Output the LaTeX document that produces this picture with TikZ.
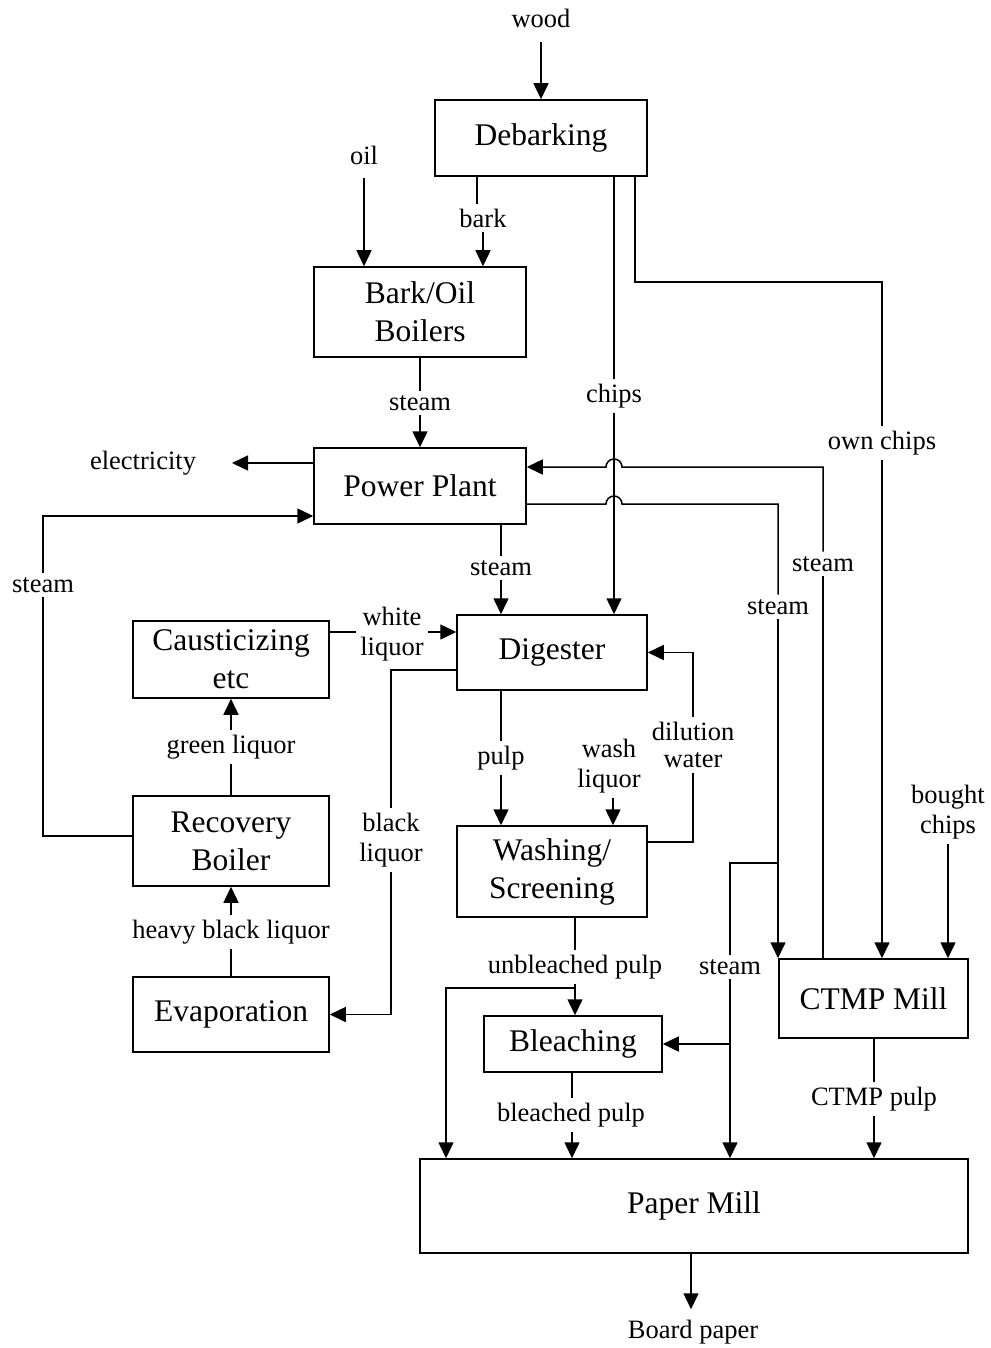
\documentclass[tikz,border=0pt]{standalone}
\usepackage{fontspec}
\setmainfont{Liberation Serif}
\usetikzlibrary{arrows.meta}
\begin{document}
\begin{tikzpicture}[x=1pt,y=1pt,line width=1.5pt,
  box/.style={draw,rectangle,line width=1.5pt,inner sep=0pt,align=center,
    font=\fontsize{31.5}{38}\selectfont},
  lbl/.style={inner sep=4pt,align=center,font=\fontsize{26.5}{30}\selectfont},
  flow/.style={-{Triangle[length=16pt,width=15pt]}}]

% page frame
\fill[white] (0,0) rectangle (990,-1348);
\useasboundingbox (0,0) rectangle (990,-1348);

% process blocks
\node[box,minimum width=212,minimum height=76] (deb)  at (541,-138)    {Debarking};
\node[box,minimum width=212,minimum height=90] (bob)  at (420,-312)    {Bark/Oil\\Boilers};
\node[box,minimum width=212,minimum height=76] (pp)   at (420,-486)    {Power Plant};
\node[box,minimum width=190,minimum height=75] (dig)  at (552,-652.5)  {Digester};
\node[box,minimum width=190,minimum height=91] (wash) at (552,-871.5)  {Washing/\\Screening};
\node[box,minimum width=178,minimum height=56] (bl)   at (573,-1044)   {Bleaching};
\node[box,minimum width=196,minimum height=77] (caus) at (231,-659.5)  {Causticizing\\etc};
\node[box,minimum width=196,minimum height=90] (rec)  at (231,-841)    {Recovery\\Boiler};
\node[box,minimum width=196,minimum height=75] (evap) at (231,-1014.5) {Evaporation};
\node[box,minimum width=189,minimum height=79] (ctmp) at (873.5,-998.5){CTMP Mill};
\node[box,minimum width=548,minimum height=94] (pm)   at (694,-1206)   {Paper Mill};

% stream labels
\node[lbl] (wood)   at (541,-18)   {wood};
\node[lbl] (oil)    at (364,-155)  {oil};
\node[lbl] (bark)   at (483,-218)  {bark};
\node[lbl] (chips)  at (614,-396)  {chips};
\node[lbl] (own)    at (882,-443)  {own chips};
\node[lbl] (stA)    at (420,-403)  {steam};
\node[lbl] (elec)   at (143,-463)  {electricity};
\node[lbl] (stL)    at (43,-585)   {steam};
\node[lbl] (stB)    at (501,-568)  {steam};
\node[lbl] (stC)    at (823,-564)  {steam};
\node[lbl] (stD)    at (778,-607)  {steam};
\node[lbl] (wl)     at (392,-634)  {white\\liquor};
\node[lbl] (blq)    at (391,-840)  {black\\liquor};
\node[lbl] (pulp)   at (501,-758)  {pulp};
\node[lbl] (wliq)   at (609,-766)  {wash\\liquor};
\node[lbl,font=\fontsize{26.5}{27}\selectfont] (dw) at (693,-745) {dilution\\water};
\node[lbl] (gl)     at (231,-747)  {green liquor};
\node[lbl] (hbl)    at (231,-932)  {heavy black liquor};
\node[lbl] (bch)    at (948,-812)  {bought\\chips};
\node[lbl] (ub)     at (575,-967)  {unbleached pulp};
\node[lbl] (stE)    at (730,-967)  {steam};
\node[lbl] (bp)     at (571,-1115) {bleached pulp};
\node[lbl] (cp)     at (874,-1099) {CTMP pulp};
\node[lbl] (board)  at (693,-1332) {Board paper};

% routing points
\coordinate (cBark)  at (477,0);
\coordinate (cBarkB) at (483,0);
\coordinate (cOwn)   at (635,-282);
\coordinate (eTip)   at (232,-463);
\coordinate (rSin)   at (0,-516);
\coordinate (rRec)   at (0,-836);
\coordinate (h1)     at (622,-467);
\coordinate (h2)     at (606,-504);
\coordinate (jA)     at (778,-863);
\coordinate (rWL)    at (0,-632);
\coordinate (rBL)    at (391,-670);
\coordinate (rDW)    at (693,-842);
\coordinate (cWL)    at (613,0);
\coordinate (jUB)    at (575,-988);
\coordinate (cUBL)   at (446,0);
\coordinate (cBP)    at (572,0);
\coordinate (cBD)    at (691,0);

% wood, oil and bark
\draw[flow] ([yshift=-10pt]wood.south) -- (deb.north -| wood);
\draw[flow] ([yshift=-9pt]oil.south) -- (bob.north -| oil);
\draw (deb.south -| cBark) -- (bark.north -| cBark);
\draw[flow] (bark.south -| cBarkB) -- (bob.north -| cBarkB);

% chips
\draw (deb.south -| chips) -- (chips.north);
\draw[flow] (chips.south) -- (dig.north -| chips);
\draw (deb.south -| cOwn) -- (cOwn) -- (cOwn -| own) -- (own.north);
\draw[flow] (own.south) -- (ctmp.north -| own);
\draw[flow] (bch.south) -- (ctmp.north -| bch);

% steam and power
\draw (bob.south) -- (stA.north);
\draw[flow] (stA.south) -- (pp.north);
\draw[flow] (pp.west |- eTip) -- (eTip);
\draw (rec.west |- rRec) -- (rRec -| stL) -- (stL.south);
\draw[flow] (stL.north) -- (stL.north |- rSin) -- (pp.west |- rSin);
\draw (pp.south -| stB) -- (stB.north);
\draw[flow] (stB.south) -- (dig.north -| stB);
\draw (ctmp.north -| stC) -- (stC.south);
\draw[flow] (stC.north) -- (stC.north |- h1) -- (h1)
  arc[start angle=0,end angle=180,radius=8] -- (pp.east |- h1);
\draw (pp.east |- h2) -- (h2)
  arc[start angle=180,end angle=0,radius=8] -- (h2 -| stD) -- (stD.north);
\draw[flow] (stD.south) -- (ctmp.north -| stD);
\draw (jA) -- (jA -| stE) -- (stE.north);
\draw[flow] (stE.south) -- (pm.north -| stE);
\draw[flow] (stE.south |- bl.east) -- (bl.east);

% liquor cycle
\draw (caus.east |- rWL) -- (wl.west |- rWL);
\draw[flow] (wl.east |- rWL) -- (dig.west |- rWL);
\draw (dig.west |- rBL) -- (rBL) -- (blq.north);
\draw[flow] (blq.south) -- (blq.south |- evap.east) -- (evap.east);
\draw (evap.north) -- (hbl.south);
\draw[flow] (hbl.north) -- (rec.south);
\draw (rec.north) -- (gl.south);
\draw[flow] (gl.north) -- (caus.south);

% pulp line
\draw (dig.south -| pulp) -- (pulp.north);
\draw[flow] (pulp.south) -- (wash.north -| pulp);
\draw[flow] (wliq.south -| cWL) -- (wash.north -| cWL);
\draw (wash.east |- rDW) -- (rDW) -- (dw.south);
\draw[flow] (dw.north) -- (dw.north |- dig.east) -- (dig.east);
\draw (wash.south -| ub) -- (ub.north);
\draw[flow] (ub.south) -- (bl.north -| ub);
\draw[flow] (jUB) -- (jUB -| cUBL) -- (pm.north -| cUBL);
\draw (bl.south -| cBP) -- (bp.north -| cBP);
\draw[flow] (bp.south -| cBP) -- (pm.north -| cBP);
\draw (ctmp.south -| cp) -- (cp.north);
\draw[flow] (cp.south) -- (pm.north -| cp);
\draw[flow] (pm.south -| cBD) -- ([yshift=6pt]board.north -| cBD);
\end{tikzpicture}
\end{document}
